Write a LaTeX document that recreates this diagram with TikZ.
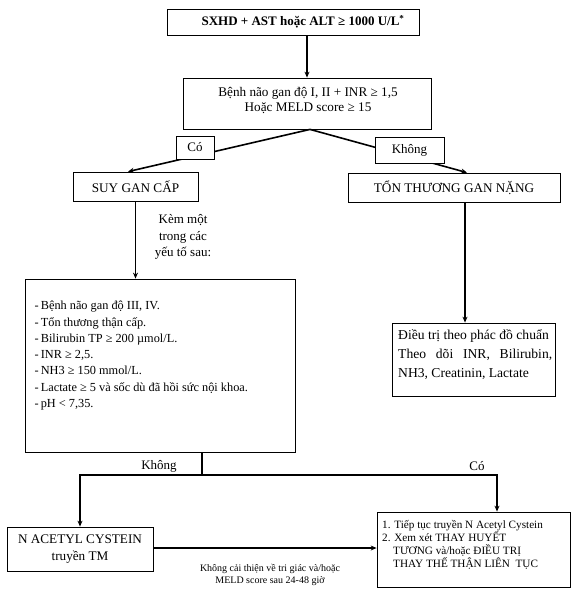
\documentclass[tikz,border=0pt]{standalone}
\usepackage{fontspec}
\setmainfont{Liberation Serif}
\usetikzlibrary{arrows.meta,calc}
\begin{document}
\begin{tikzpicture}[x=1pt,y=-1pt,
  box/.style={draw, line width=0.8pt, inner sep=0pt},
  conn/.style={line width=1.6pt},
  arr/.style={conn, -{Stealth[length=6pt,width=5pt]}},
  lbl/.style={box, fill=white, font=\fontsize{13}{15}\selectfont},
  plain/.style={inner sep=0pt}]
\useasboundingbox[fill=white] (0,0) rectangle (576,592);

% top box
\node[box, minimum width=252pt, minimum height=26pt] (top) at (293,22) {};
\node[plain, font=\bfseries\fontsize{13}{15}\selectfont] (topt) at (303,22)
      {SXHD + AST hoặc ALT ≥ 1000 U/L\textsuperscript{*}};

% second box
\node[box, minimum width=248pt, minimum height=51pt] (b2) at (307,103.5) {};
\node[plain, align=center, font=\fontsize{13.2}{15}\selectfont] (b2t) at (308,100.5)
      {Bệnh não gan độ I, II + INR ≥ 1,5\\Hoặc MELD score ≥ 15};

\draw[arr] (b2.north |- top.south) -- (b2.north);

% branches
\node[box, minimum width=125pt, minimum height=29pt,
      font=\fontsize{13.2}{15}\selectfont] (suy) at (135.5,186.5) {SUY GAN CẤP};
\node[box, minimum width=212pt, minimum height=29pt,
      font=\fontsize{13.2}{15}\selectfont] (ton) at (454,187.5) {TỔN THƯƠNG GAN NẶNG};

\coordinate (split) at ($(b2.south)+(3,0)$);
\draw[arr] (split) -- ($(suy.north)+(-7.5,0)$);
\draw[arr] (split) -- ($(ton.north)+(13,0)$);

\node[lbl, minimum width=38pt, minimum height=23pt] (co1) at (195,147.5) {Có};
\node[lbl, minimum width=69pt, minimum height=26pt] (khong1) at (409.5,150) {Không};

% criteria box
\node[box, minimum width=270pt, minimum height=173pt] (crit) at (160,365.5) {};
\node[plain, anchor=north west, align=left,
      font=\fontsize{12.3}{16.3}\selectfont] (critt) at (34.5,301)
      {-\,Bệnh não gan độ III, IV.\\
       -\,Tổn thương thận cấp.\\
       -\,Bilirubin TP ≥ 200 µmol/L.\\
       -\,INR ≥ 2,5.\\
       -\,NH3 ≥ 150 mmol/L.\\
       -\,Lactate ≥ 5 và sốc dù đã hồi sức nội khoa.\\
       -\,pH < 7,35.};

\draw[arr] (suy.south) -- (suy.south |- crit.north);
\node[plain, align=center, font=\fontsize{13}{16.5}\selectfont] (kem) at (183,237)
      {Kèm một\\trong các\\yếu tố sau:};

% standard treatment box
\node[box, minimum width=163pt, minimum height=73pt] (std) at (473.5,359.5) {};
\node[plain, anchor=north west, text width=154pt, align=justify,
      font=\fontsize{13.6}{19}\selectfont] (stdt) at (398,329)
      {Điều trị theo phác đồ chuẩn\\Theo dõi INR, Bilirubin,\linebreak NH3, Creatinin, Lactate};
\coordinate (tondown) at ($(ton.south)+(11,0)$);
\draw[arr] (tondown) -- (tondown |- std.north);

% bottom
\node[box, minimum width=146pt, minimum height=44pt] (nac) at (80,549) {};
\node[plain, align=center, font=\fontsize{13.2}{17}\selectfont] (nact) at (80,549.5)
      {N ACETYL CYSTEIN\\truyền TM};
\node[box, minimum width=193pt, minimum height=75pt] (plas) at (473.5,549.5) {};
\node[plain, anchor=north west, align=left,
      font=\fontsize{11.2}{13}\selectfont] (plast) at (382,520.5)
      {1. Tiếp tục truyền N Acetyl Cystein\\
       2. Xem xét THAY HUYẾT\\
       \hspace*{11pt}TƯƠNG và/hoặc ĐIỀU TRỊ\\
       \hspace*{11pt}THAY THẾ THẬN LIÊN\ \ TỤC};

\coordinate (jn) at (202,475);
\coordinate (jl) at (nac.north |- jn);
\coordinate (jr) at ($(plas.north)+(23.5,0)$);
\draw[conn] (jn |- crit.south) -- (jn);
\draw[conn] (jl) -- (jr |- jn);
\draw[arr] ($(jl)+(0,-0.8)$) -- ($(nac.north)$);
\draw[arr] ($(jr |- jn)+(0,-0.8)$) -- (jr);

\node[plain, font=\fontsize{13}{15}\selectfont] (khong2) at (159,466) {Không};
\node[plain, font=\fontsize{13}{15}\selectfont] (co2) at (477,466) {Có};

\draw[conn, -{Stealth[length=6pt,width=5pt]}] (nac.east |- 0,548) -- (plas.west |- 0,548);
\node[plain, align=center, font=\fontsize{10}{12}\selectfont] (note) at (270,574.5)
      {Không cải thiện về tri giác và/hoặc\\MELD score sau 24-48 giờ};
\end{tikzpicture}
\end{document}
